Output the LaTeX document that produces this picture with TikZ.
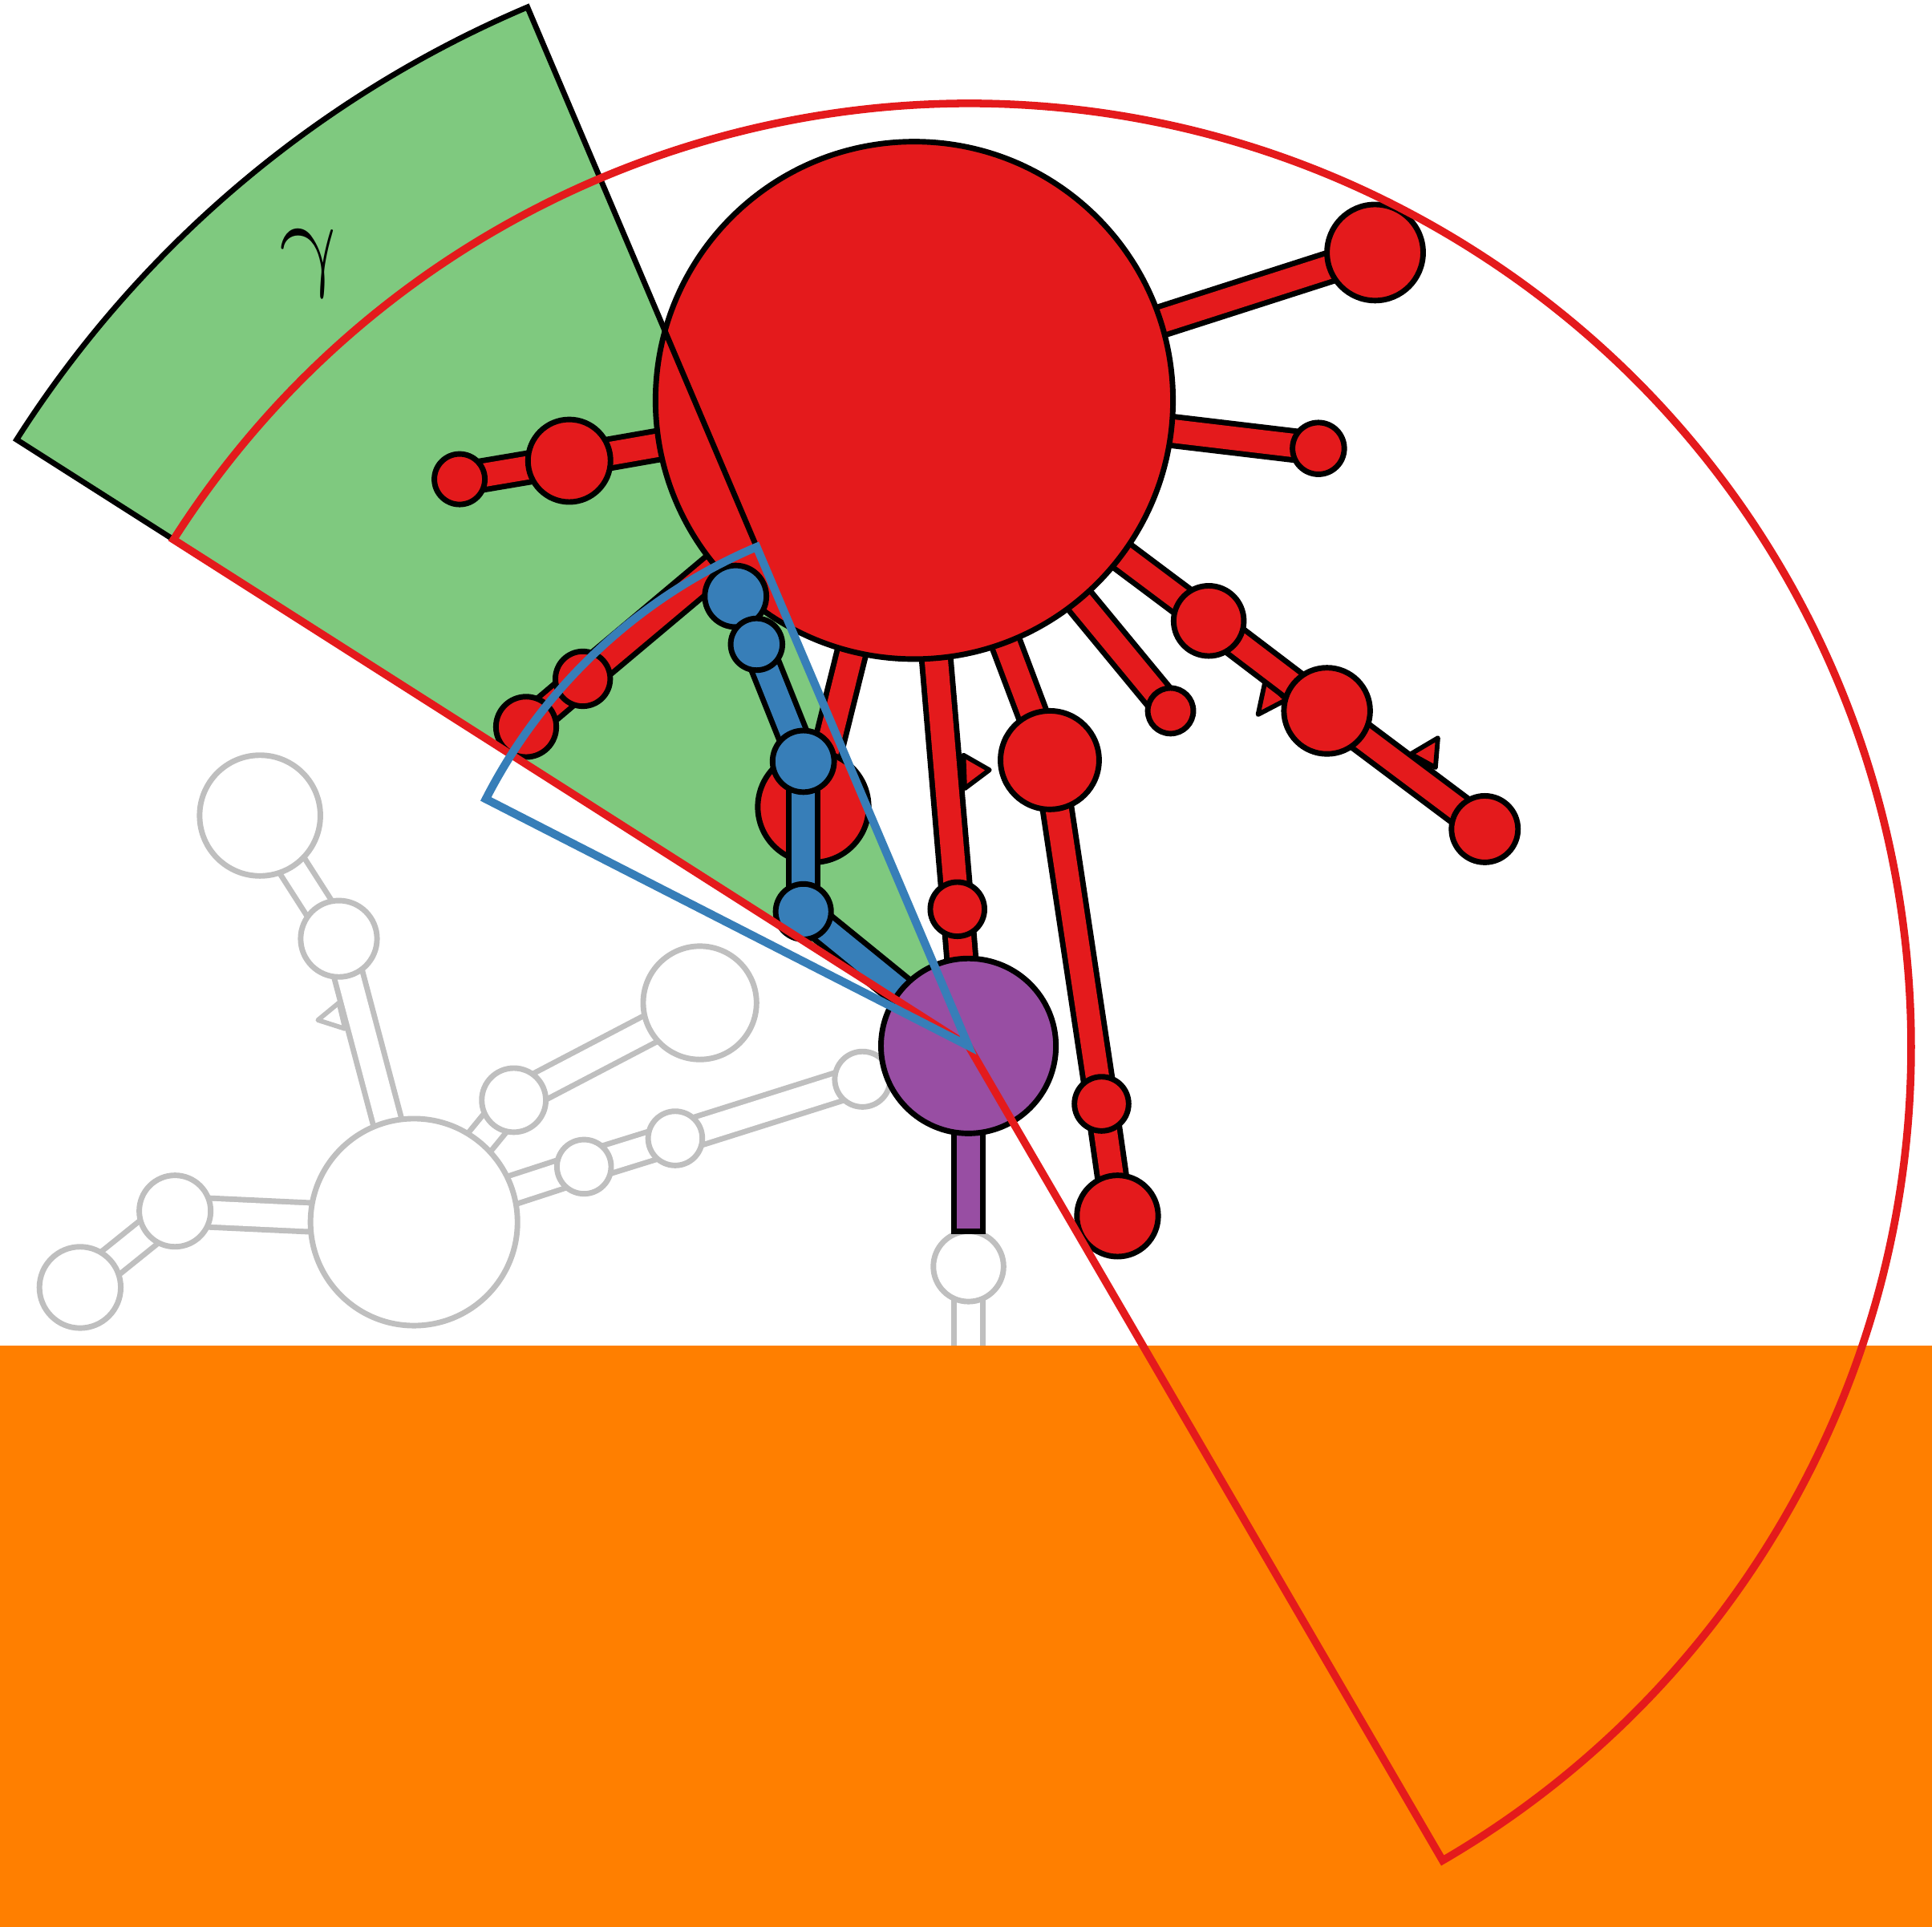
\documentclass[tikz,border=0pt]{standalone}
\usetikzlibrary{calc}

\definecolor{cRed}{RGB}{228,26,28}
\definecolor{cBlue}{RGB}{55,126,184}
\definecolor{cGreen}{RGB}{127,201,127}
\definecolor{cPurple}{RGB}{152,78,163}
\definecolor{cOrange}{RGB}{255,127,0}
\definecolor{cGrey}{RGB}{191,191,191}

\pgfdeclarelayer{back}
\pgfdeclarelayer{greybonds}
\pgfdeclarelayer{greyatoms}
\pgfdeclarelayer{redbonds}
\pgfdeclarelayer{redatoms}
\pgfdeclarelayer{bluebonds}
\pgfdeclarelayer{blueatoms}
\pgfsetlayers{back,greybonds,greyatoms,redbonds,redatoms,bluebonds,blueatoms,main}

\tikzset{
  atom/.style={circle, draw=black, line width=0.45mm, inner sep=0pt, minimum size=#1},
  ratom/.style={atom=#1, fill=cRed},
  batom/.style={atom=#1, fill=cBlue},
  gatom/.style={atom=#1, draw=cGrey, fill=white},
  bond/.style={draw=black, line width=0.45mm, double=#1, double distance=1.9mm},
  gbond/.style={bond=white, draw=cGrey},
  hmark/.style={draw=black, fill=cRed, line width=0.38mm, line join=round},
}

\begin{document}
\begin{tikzpicture}[x=0.1mm, y=0.1mm]
\useasboundingbox (0,0) rectangle (1568,1564);

% grey molecule
\begin{pgfonlayer}{greyatoms}
\node[gatom=16.8mm] (g1) at (336,572) {};
\node[gatom=5.8mm] (g2) at (142,581) {};
\node[gatom=6.6mm] (g3) at (65,519) {};
\node[gatom=6.2mm] (g4) at (275,802) {};
\node[gatom=9.8mm] (g5) at (211,902) {};
\node[gatom=5.2mm] (g6) at (417,671) {};
\node[gatom=9.2mm] (g7) at (568,750) {};
\node[gatom=4.4mm] (g8) at (474,617) {};
\node[gatom=4.4mm] (g9) at (548,640) {};
\node[gatom=4.5mm] (g10) at (700,688) {};
\node[gatom=5.7mm] (g0) at (786,536) {};
\end{pgfonlayer}
\coordinate (surf) at (786,472);

% red molecule
\begin{pgfonlayer}{redatoms}
\node[ratom=42mm] (r0) at (742,1239) {};
\node[ratom=7.8mm] (r1) at (1116,1359) {};
\node[ratom=4.2mm] (r2) at (1070,1200) {};
\node[ratom=6.7mm] (r3) at (462,1190) {};
\node[ratom=4.1mm] (r4) at (373,1175) {};
\node[ratom=4.45mm] (r5) at (473,1013) {};
\node[ratom=4.9mm] (r6) at (427,974) {};
\node[ratom=9mm] (r7) at (660,909) {};
\node[ratom=4.4mm] (r8) at (777,826) {};
\node[ratom=8mm] (r9) at (852,947) {};
\node[ratom=4.4mm] (r10) at (894,668) {};
\node[ratom=6.6mm] (r11) at (907,577) {};
\node[ratom=3.7mm] (r12) at (950,987) {};
\node[ratom=5.7mm] (r13) at (981,1060) {};
\node[ratom=7mm] (r14) at (1077,987) {};
\node[ratom=5.4mm] (r15) at (1205,891) {};
\end{pgfonlayer}

% blue chain
\begin{pgfonlayer}{blueatoms}
\node[batom=5mm] (b1) at (597,1080) {};
\node[batom=4.2mm] (b2) at (614,1041) {};
\node[batom=5mm] (b3) at (652,946) {};
\node[batom=4.5mm] (b4) at (652,824) {};
\end{pgfonlayer}

\node[atom=14.2mm, fill=cPurple] (pu) at (786,715) {};

% bonds
\begin{pgfonlayer}{greybonds}
\foreach \a/\b in {g1/g2, g2/g3, g1/g4, g4/g5, g1/g6, g6/g7, g1/g8, g8/g9, g9/g10}
  \draw[gbond] (\a.center) -- (\b.center);
\draw[gbond] (g0.center) -- (surf);
\filldraw[hmark, draw=cGrey, fill=white] (275,750) -- (258,736) -- (280,729) -- cycle;
\end{pgfonlayer}

\begin{pgfonlayer}{redbonds}
\filldraw[hmark] (782,951) -- (803,939) -- (783,924) -- cycle;
\filldraw[hmark] (1027,1012) -- (1044,996) -- (1021,984) -- cycle;
\filldraw[hmark] (1145,952) -- (1167,965) -- (1165,941) -- cycle;
\foreach \a/\b in {r0/r1, r0/r2, r0/r3, r3/r4, r0/r5, r5/r6, r0/r7, r0/r8, r8/pu,
                   r0/r9, r9/r10, r10/r11, r0/r12, r0/r13, r13/r14, r14/r15}
  \draw[bond=cRed] (\a.center) -- (\b.center);
\end{pgfonlayer}

\begin{pgfonlayer}{bluebonds}
\foreach \a/\b in {b2/b3, b3/b4, b4/pu}
  \draw[bond=cBlue] (\a.center) -- (\b.center);
\filldraw[fill=cPurple, draw=black, line width=0.45mm]
  ($(pu.center)+(-11.5,0)$) rectangle ($(g0.north)+(11.5,-2)$);
\end{pgfonlayer}

% surface and cone fill
\begin{pgfonlayer}{back}
\fill[white] (0,0) rectangle (1568,1564);
\fill[cOrange] (0,0) rectangle (1568,472);
\fill[cGreen] (pu.center) -- ++(113:916) arc[start angle=113, end angle=147.5, radius=916] -- cycle;
\end{pgfonlayer}

\draw[line width=0.45mm] (pu.center) -- ++(113:916) arc[start angle=113, end angle=147.5, radius=916] -- cycle;
\begin{scope}[shift={(254,1350)}, xslant=-0.2]
  \node[transform shape] (gam) at (0,0) {\fontsize{25.5}{30}\selectfont $\gamma$};
\end{scope}

\draw[cRed, line width=0.62mm] (pu.center) -- ++(147.5:765) arc[start angle=147.5, end angle=-59.8, radius=765] -- cycle;
\draw[cBlue, line width=0.66mm] (pu.center) -- ++(113:440) arc[start angle=113, end angle=152.9, radius=440] -- cycle;
\end{tikzpicture}
\end{document}
